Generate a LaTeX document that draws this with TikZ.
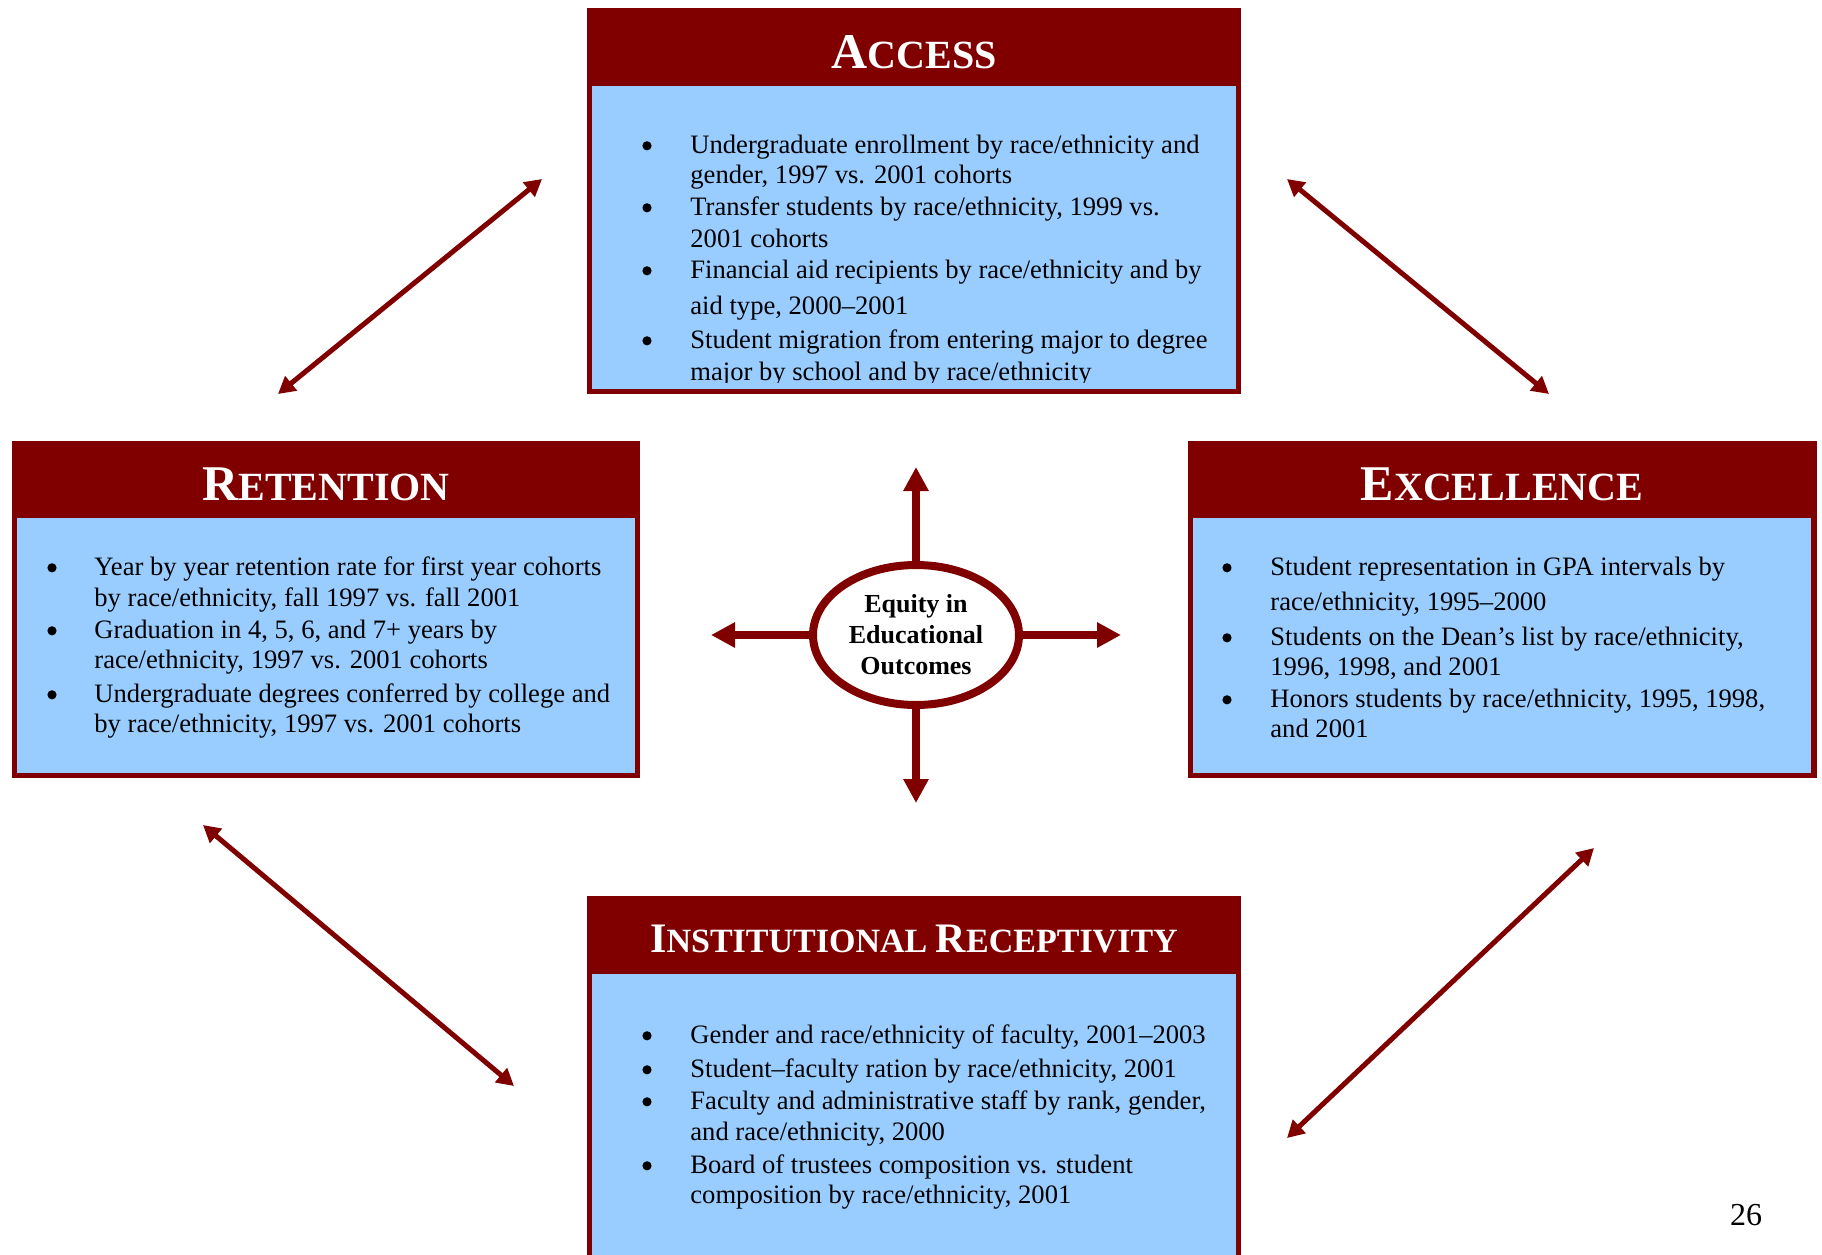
\documentclass[tikz,border=0pt]{standalone}
\usepackage{fontspec}
\setmainfont{Liberation Serif}
\usetikzlibrary{arrows.meta,shapes.geometric}
\definecolor{hdred}{RGB}{128,0,0}
\definecolor{bodyblue}{RGB}{153,204,255}
\newcommand\scword[4]{{\fontsize{#3}{#3}\selectfont #1}{\fontsize{#4}{#4}\selectfont #2}}
\tikzset{
  outerbox/.style={fill=hdred, draw=none, inner sep=0pt, outer sep=0pt},
  bluebox/.style={fill=bodyblue, draw=none, inner sep=0pt, outer sep=0pt},
  ttl/.style={text=white, anchor=base, inner sep=0pt},
  itm/.style={anchor=base west, inner sep=0pt, font=\fontsize{13.3pt}{15pt}\selectfont},
  blt/.style={circle, fill=black, draw=none, inner sep=0pt, minimum size=4.6pt, yshift=3.6pt},
  spoke/.style={draw=hdred, line width=4pt, -{Triangle[length=12pt,width=12pt]}},
  link/.style={draw=hdred, line width=2.5pt, {Triangle[length=8.5pt,width=9pt]}-{Triangle[length=8.5pt,width=9pt]}},
}
\begin{document}
\begin{tikzpicture}[x=0.5pt,y=-0.5pt]
\useasboundingbox (0,0) rectangle (1822,1254);

% ---------- ACCESS ----------
\node[outerbox, minimum width=327pt, minimum height=193pt] (accout) at (914,201) {};
\node[bluebox, minimum width=322pt, minimum height=151.5pt] (accin) at (914,237.5) {};
\node[ttl, font=\bfseries\fontsize{20pt}{20pt}\selectfont] (acct) at (914,68) {\scword{A}{CCESS}{25pt}{20pt}};
\node[blt] (ab1) at (647,153) {};
\node[itm] (a1) at (690,153) {Undergraduate enrollment by race/ethnicity and};
\node[itm] (a2) at (690,183) {gender, 1997 vs. 2001 cohorts};
\node[blt] (ab2) at (647,215) {};
\node[itm] (a3) at (690,215) {Transfer students by race/ethnicity, 1999 vs.};
\node[itm] (a4) at (690,247) {2001 cohorts};
\node[blt] (ab3) at (647,278) {};
\node[itm] (a5) at (690,278) {Financial aid recipients by race/ethnicity and by};
\node[itm] (a6) at (690,314) {aid type, 2000--2001};
\node[blt] (ab4) at (647,348) {};
\node[itm] (a7) at (690,348) {Student migration from entering major to degree};
\begin{scope}
\clip (592,86) rectangle (1236,382);
\node[itm] (a8) at (690,380) {major by school and by race/ethnicity};
\end{scope}

% ---------- RETENTION ----------
\node[outerbox, minimum width=314pt, minimum height=168.5pt] (retout) at (326,609.5) {};
\node[bluebox, minimum width=309pt, minimum height=127.5pt] (retin) at (326,645.5) {};
\node[ttl, font=\bfseries\fontsize{20pt}{20pt}\selectfont] (rett) at (326,500) {\scword{R}{ETENTION}{25pt}{20pt}};
\node[blt] (rb1) at (52,575) {};
\node[itm] (r1) at (94,575) {Year by year retention rate for first year cohorts};
\node[itm] (r2) at (94,606) {by race/ethnicity, fall 1997 vs. fall 2001};
\node[blt] (rb2) at (52,638) {};
\node[itm] (r3) at (94,638) {Graduation in 4, 5, 6, and 7+ years by};
\node[itm] (r4) at (94,668) {race/ethnicity, 1997 vs. 2001 cohorts};
\node[blt] (rb3) at (52,702) {};
\node[itm] (r5) at (94,702) {Undergraduate degrees conferred by college and};
\node[itm] (r6) at (94,732) {by race/ethnicity, 1997 vs. 2001 cohorts};

% ---------- EXCELLENCE ----------
\node[outerbox, minimum width=314.5pt, minimum height=168.5pt] (excout) at (1502.5,609.5) {};
\node[bluebox, minimum width=309pt, minimum height=127.5pt] (excin) at (1502,645.5) {};
\node[ttl, font=\bfseries\fontsize{20pt}{20pt}\selectfont] (exct) at (1502,500) {\scword{E}{XCELLENCE}{25pt}{20pt}};
\node[blt] (eb1) at (1227,575) {};
\node[itm] (e1) at (1270,575) {Student representation in GPA intervals by};
\node[itm] (e2) at (1270,610) {race/ethnicity, 1995--2000};
\node[blt] (eb2) at (1227,645) {};
\node[itm] (e3) at (1270,645) {Students on the Dean’s list by race/ethnicity,};
\node[itm] (e4) at (1270,675) {1996, 1998, and 2001};
\node[blt] (eb3) at (1227,707) {};
\node[itm] (e5) at (1270,707) {Honors students by race/ethnicity, 1995, 1998,};
\node[itm] (e6) at (1270,737) {and 2001};

% ---------- INSTITUTIONAL RECEPTIVITY ----------
\node[outerbox, minimum width=327pt, minimum height=187pt] (insout) at (914,1083) {};
\node[bluebox, minimum width=322pt, minimum height=148pt] (insin) at (914,1122) {};
\node[ttl, font=\bfseries\fontsize{17pt}{17pt}\selectfont] (inst) at (914,952) {\scword{I}{NSTITUTIONAL}{21pt}{17pt} \scword{R}{ECEPTIVITY}{21pt}{17pt}};
\node[blt] (ib1) at (647,1043) {};
\node[itm] (i1) at (690,1043) {Gender and race/ethnicity of faculty, 2001--2003};
\node[blt] (ib2) at (647,1077) {};
\node[itm] (i2) at (690,1077) {Student--faculty ration by race/ethnicity, 2001};
\node[blt] (ib3) at (647,1109) {};
\node[itm] (i3) at (690,1109) {Faculty and administrative staff by rank, gender,};
\node[itm] (i4) at (690,1140) {and race/ethnicity, 2000};
\node[blt] (ib4) at (647,1173) {};
\node[itm] (i5) at (690,1173) {Board of trustees composition vs. student};
\node[itm] (i6) at (690,1203) {composition by race/ethnicity, 2001};

% ---------- CENTRE ----------
\node[ellipse, draw=hdred, line width=4pt, fill=white, minimum width=103pt, minimum height=70pt, inner sep=0pt, align=center, font=\bfseries\fontsize{13pt}{15.5pt}\selectfont] (eq) at (916,635) {Equity in\\Educational\\Outcomes};
\coordinate (tipN) at (916,467);
\coordinate (tipS) at (916,803);
\coordinate (tipW) at (711,635);
\coordinate (tipE) at (1121,635);
\draw[spoke] (eq.north) -- (tipN);
\draw[spoke] (eq.south) -- (tipS);
\draw[spoke] (eq.west) -- (tipW);
\draw[spoke] (eq.east) -- (tipE);

% ---------- DIAGONAL LINKS ----------
\coordinate (tlA) at (278,394);
\coordinate (tlB) at (542,179);
\coordinate (trA) at (1287,179);
\coordinate (trB) at (1549,394);
\coordinate (blA) at (203,825);
\coordinate (blB) at (514,1086);
\coordinate (brA) at (1287,1138);
\coordinate (brB) at (1594,848);
\draw[link] (tlA) -- (tlB);
\draw[link] (trA) -- (trB);
\draw[link] (blA) -- (blB);
\draw[link] (brA) -- (brB);

% ---------- PAGE NUMBER ----------
\node[anchor=base, inner sep=0pt, font=\fontsize{16pt}{16pt}\selectfont] (pnum) at (1746,1225) {26};
\end{tikzpicture}
\end{document}
